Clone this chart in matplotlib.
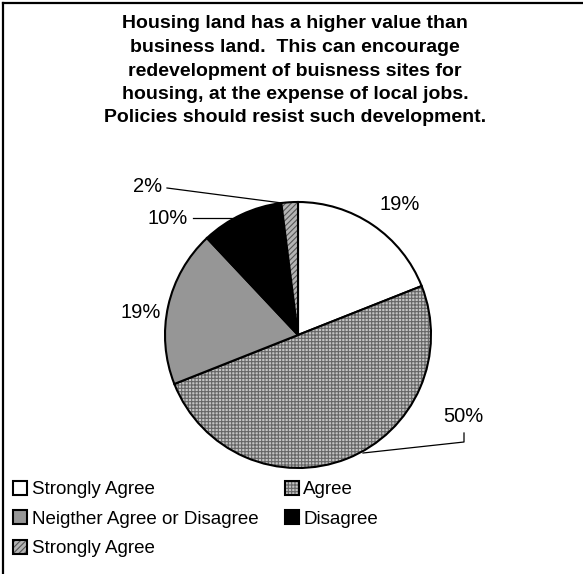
import matplotlib
matplotlib.use("Agg")
import matplotlib.pyplot as plt
from matplotlib.lines import Line2D

plt.rcParams["font.family"] = ["Liberation Sans", "DejaVu Sans"]
plt.rcParams["hatch.linewidth"] = 0.8

title = ("Housing land has a higher value than\n"
         "business land.  This can encourage\n"
         "redevelopment of buisness sites for\n"
         "housing, at the expense of local jobs.\n"
         "Policies should resist such development.")
categories = ["Strongly Agree", "Agree", "Neigther Agree or Disagree",
              "Disagree", "Strongly Agree"]
values = [19, 50, 19, 10, 2]

W, H = 583, 574
fig = plt.figure(figsize=(W / 100, H / 100), dpi=100)

# pie geometry in pixels
cx, cy, r = 298, 335, 133
ax = fig.add_axes([(cx - r) / W, (H - cy - r) / H, 2 * r / W, 2 * r / H])

faces = ["white", "#c4c4c4", "#969696", "black", "#b4b4b4"]
hatches = [None, "+++++", None, None, "//////"]
hcols = ["black", "#666666", "black", "black", "#555555"]

wedges, _ = ax.pie(values, startangle=90, counterclock=False, radius=1,
                   center=(0, 0), frame=True,
                   wedgeprops=dict(edgecolor="black", linewidth=1.5))
ax.set_xlim(-1, 1)
ax.set_ylim(-1, 1)
ax.axis("off")
for w, fc, h, hc in zip(wedges, faces, hatches, hcols):
    w.set_facecolor(fc)
    if h:
        w.set_hatch(h)
        w._hatch_color = matplotlib.colors.to_rgba(hc)


def d(px, py):
    return (px - cx) / r, (cy - py) / r


# percentage labels (pixel positions of label centres)
label_pos = [(400, 204), (463, 417), (141, 313), (168, 218), (148, 187)]
for v, (px, py) in zip(values, label_pos):
    x, y = d(px, py)
    ax.text(x, y, f"{v}%", fontsize=14.5, ha="center", va="center",
            clip_on=False)

# leader lines
leaders = [
    [(167, 188), (282, 203)],
    [(193, 218), (233, 218)],
    [(363, 453), (464, 442), (464, 433)],
]
for pts in leaders:
    xs, ys = zip(*[d(*p) for p in pts])
    ax.add_line(Line2D(xs, ys, color="black", lw=0.9, clip_on=False))

fig.text(295 / W, 1 - 71 / H, title, ha="center", va="center",
         fontsize=14, fontweight="bold", linespacing=1.5)

# frame (left and top edges)
fig.add_artist(Line2D([2.5 / W, 2.5 / W], [0, 1 - 2.5 / H], color="black",
                      lw=1.6, transform=fig.transFigure))
fig.add_artist(Line2D([2.5 / W, 1], [1 - 2.5 / H, 1 - 2.5 / H],
                      color="black", lw=1.6, transform=fig.transFigure))

# legend, filled row by row
order = [0, 2, 4, 1, 3]
handles = [wedges[i] for i in order]
labels = [categories[i] for i in order]
leg = fig.legend(handles, labels, ncol=2, loc="upper left",
                 bbox_to_anchor=(13 / W, 1 - 481 / H), frameon=False,
                 fontsize=13.5, handlelength=0.75, handleheight=0.75,
                 handletextpad=0.25, columnspacing=1.4, labelspacing=0.64,
                 borderpad=0, borderaxespad=0)

fig.savefig("out.png", dpi=100)
